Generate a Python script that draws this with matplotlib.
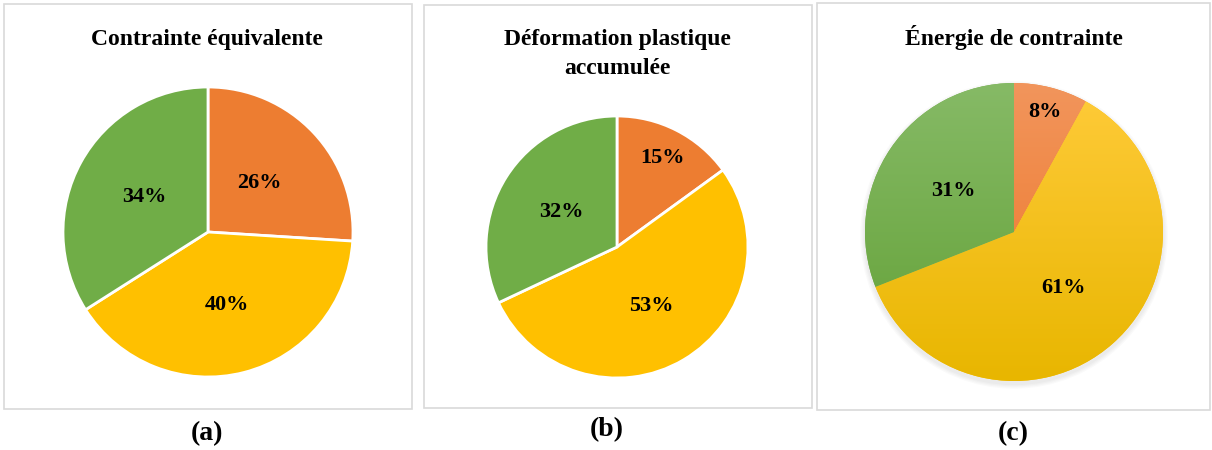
import numpy as np
import matplotlib
matplotlib.use("Agg")
import matplotlib.pyplot as plt
from matplotlib.patches import Rectangle, Circle

# ---------------- data ----------------
categories = ["Orange", "Jaune", "Vert"]
contrainte_eq = [26, 40, 34]
deformation = [15, 53, 32]
energie = [8, 61, 31]
titles = ["Contrainte équivalente", "Déformation plastique\naccumulée", "Énergie de contrainte"]
panel_labels = ["(a)", "(b)", "(c)"]

colors = ["#ED7D31", "#FFC000", "#70AD47"]
grad_top = ["#F2955C", "#FFCB3A", "#86BA66"]
grad_bot = ["#EC7424", "#E8B600", "#62A035"]

W, H = 1212, 450
fig = plt.figure(figsize=(W / 100, H / 100), dpi=100)
fig.patch.set_facecolor("white")

FONT = "Liberation Serif"

def fx(x):
    return x / W

def fy(y):
    return 1 - y / H

# panel boxes (pixel coords: x0, y0, x1, y1)
boxes = [(4, 4, 412, 409), (424, 5, 812, 408), (817, 3, 1210, 410)]
for (x0, y0, x1, y1) in boxes:
    fig.add_artist(Rectangle((fx(x0), fy(y1)), fx(x1 - x0), (y1 - y0) / H,
                             transform=fig.transFigure, facecolor="none",
                             edgecolor="#D9D9D9", linewidth=1.2))

# pie geometry (center x, center y, radius) in pixels
geoms = [(208, 232, 145), (617, 247, 131), (1014, 232, 149)]
label_dist = [[0.49, 0.52, 0.50], [0.76, 0.52, 0.50], [0.83, 0.50, 0.49]]
title_pos = [(207, 40), (617, 54), (1014, 37)]
plab_pos = [(207, 434), (607, 430), (1013, 434)]

datasets = [contrainte_eq, deformation, energie]

for i, (vals, (cx, cy, r)) in enumerate(zip(datasets, geoms)):
    pad = 1.08
    ax = fig.add_axes([fx(cx - r * pad), fy(cy + r * pad), 2 * r * pad / W, 2 * r * pad / H])
    ax.axis("off")
    gradient = (i == 2)
    if gradient:
        # soft shadow
        for k in range(4):
            ax.add_patch(Circle((0.0, -0.02), 1.0 + 0.008 * (4 - k),
                                facecolor="#000000", alpha=0.018, edgecolor="none",
                                zorder=0))
    wedges, _ = ax.pie(vals, colors=colors, startangle=90, counterclock=False,
                       radius=1.0, center=(0, 0),
                       wedgeprops=dict(edgecolor="none" if gradient else "white",
                                       linewidth=0 if gradient else 2.0))
    if gradient:
        for j, w in enumerate(wedges):
            c1 = np.array(matplotlib.colors.to_rgb(grad_top[j]))
            c2 = np.array(matplotlib.colors.to_rgb(grad_bot[j]))
            t = np.linspace(0, 1, 256)[:, None]
            img = (c1[None, :] * (1 - t) + c2[None, :] * t)[:, None, :]
            im = ax.imshow(img, extent=(-1, 1, -1, 1), origin="upper",
                           aspect="auto", zorder=w.get_zorder() + 0.1,
                           interpolation="bilinear")
            im.set_clip_path(w)
    ax.set_xlim(-pad, pad)
    ax.set_ylim(-pad, pad)
    total = float(sum(vals))
    start = 90.0
    for j, v in enumerate(vals):
        span = 360.0 * v / total
        mid = np.deg2rad(start - span / 2)
        d = label_dist[i][j]
        ax.text(d * np.cos(mid), d * np.sin(mid), f"{v}%", ha="center", va="center",
                fontsize=16, fontweight="bold", family=FONT, color="#000000", zorder=10)
        start -= span

for (tx, ty), t in zip(title_pos, titles):
    fig.text(fx(tx), fy(ty), t, ha="center", va="center", fontsize=17,
             fontweight="bold", family=FONT, linespacing=1.45)

for (tx, ty), t in zip(plab_pos, panel_labels):
    fig.text(fx(tx), fy(ty), t, ha="center", va="center", fontsize=20,
             fontweight="bold", family=FONT)

fig.savefig("out.png", dpi=100, facecolor="white")
